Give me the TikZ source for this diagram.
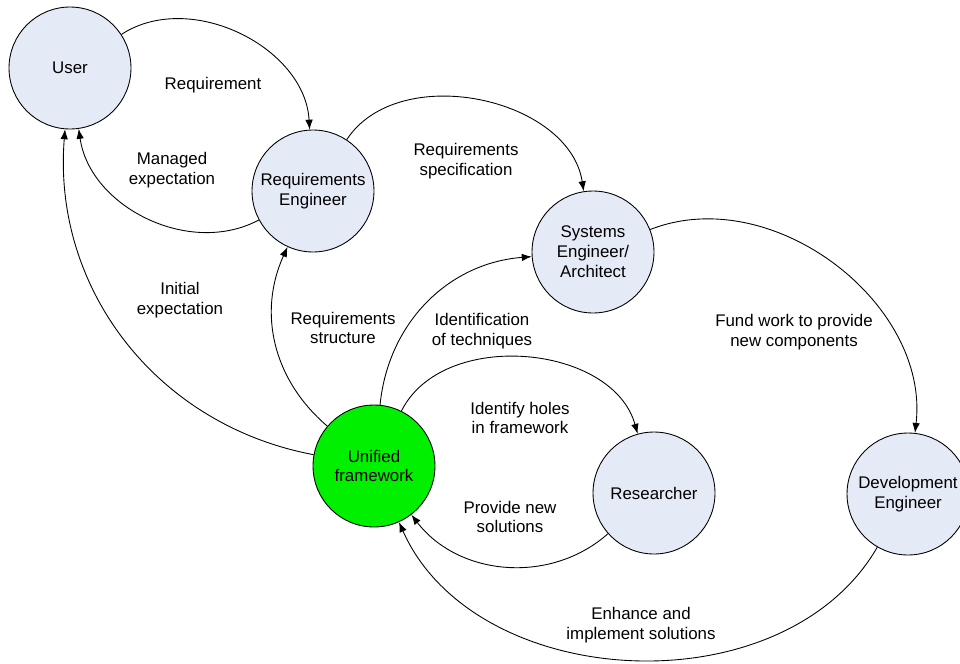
\documentclass[tikz,border=0pt]{standalone}
\usepackage{fontspec}
\setmainfont{Liberation Sans}
\usepackage{tikz}
\usetikzlibrary{arrows.meta}
\definecolor{CBlue}{RGB}{228,234,246}
\definecolor{CGreen}{RGB}{0,240,0}

\begin{document}
\begin{tikzpicture}[x=0.02cm, y=-0.02cm, line width=0.5pt,
    role/.style={circle, draw, fill=CBlue, minimum size=2.44cm, inner sep=0pt, align=center},
    lbl/.style={align=center},
    flow/.style={-{Latex[length=2mm, width=1.5mm]}},
    every node/.style={font=\fontsize{9.6}{11.3}\selectfont}]
    \useasboundingbox (0, 0) rectangle (960, 663);

    % actors
    \node [role] (user) at (70, 68) {User};
    \node [role] (reqeng) at (313, 191) {Requirements\\Engineer};
    \node [role] (syseng) at (593, 252) {Systems\\Engineer/\\Architect};
    \node [role, fill=CGreen] (unified) at (374, 466) {Unified\\framework};
    \node [role] (research) at (654, 493) {Researcher};
    \node [role] (deveng) at (908, 494) {Development\\Engineer};

    % flows
    \draw [flow] (user) to [bend left=60] (reqeng);
    \draw [flow] (reqeng) to [bend left=55] (user);
    \draw [flow] (reqeng) to [bend left=69] (syseng);
    \draw [flow] (unified) to [bend left=42] (user);
    \draw [flow] (unified) to [bend left=37] (reqeng);
    \draw [flow] (unified) to [bend left=40] (syseng);
    \draw [flow] (unified) to [bend left=69] (research);
    \draw [flow] (research) to [bend left=47] (unified);
    \draw [flow] (syseng) to [bend left=59] (deveng);
    \draw [flow] (deveng) to [bend left=63] (unified);

    % labels
    \node [lbl] (l-req) at (213, 85) {Requirement};
    \node [lbl] (l-managed) at (172, 170) {Managed\\expectation};
    \node [lbl] (l-spec) at (466, 161) {Requirements\\specification};
    \node [lbl] (l-initial) at (180, 300) {Initial\\expectation};
    \node [lbl] (l-struct) at (343, 328) {Requirements\\structure};
    \node [lbl] (l-ident) at (482, 331) {Identification\\of techniques};
    \node [lbl] (l-holes) at (520, 418) {Identify holes\\in framework};
    \node [lbl] (l-provide) at (510, 517) {Provide new\\solutions};
    \node [lbl] (l-fund) at (794, 332) {Fund work to provide\\new components};
    \node [lbl] (l-enhance) at (641, 625) {Enhance and\\implement solutions};
\end{tikzpicture}
\end{document}
